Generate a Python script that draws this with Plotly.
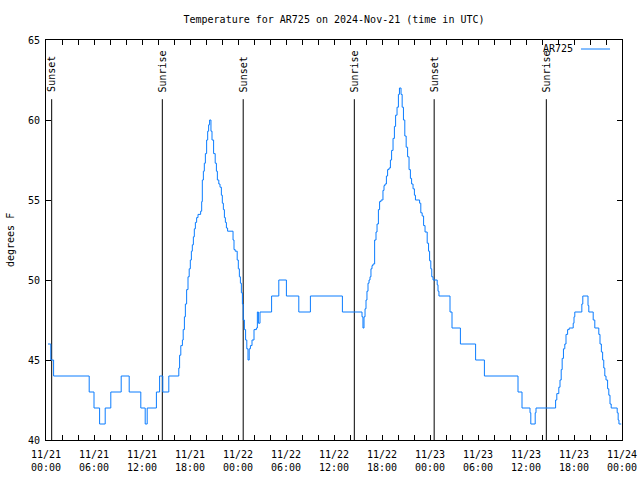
import pandas as pd
import plotly.graph_objects as go

# ---- data -------------------------------------------------------------
start = "2024-11-21 00:00"
end = "2024-11-24 00:00"

# hours since start at which the reading changes, and the reading (deg F)
obs_hours = [
    0.25, 0.6, 0.95, 5.4, 6.0, 6.7, 7.4, 8.1, 9.4, 10.4,
    11.85, 12.4, 12.65, 13.8, 14.2, 14.6, 15.35, 16.6, 16.7, 16.85,
    17.05, 17.15, 17.3, 17.42, 17.58, 17.75, 17.9, 18.04, 18.17, 18.29,
    18.42, 18.54, 18.67, 18.83, 19.0, 19.33, 19.46, 19.54, 19.67, 19.79,
    19.92, 20.08, 20.21, 20.33, 20.45, 20.62, 20.75, 20.95, 21.15, 21.3,
    21.42, 21.6, 21.75, 21.92, 22.04, 22.17, 22.3, 22.42, 22.55, 22.7,
    23.38, 23.5, 23.65, 23.9, 24.04, 24.17, 24.3, 24.42, 24.55, 24.65,
    24.8, 24.95, 25.1, 25.25, 25.4, 25.55, 25.75, 26.0, 26.3, 26.42,
    26.55, 26.75, 28.2, 29.1, 30.05, 31.6, 33.05, 37.05, 39.5, 39.62,
    39.75, 39.88, 40.0, 40.12, 40.25, 40.38, 40.5, 40.62, 40.75, 40.88,
    41.08, 41.25, 41.38, 41.55, 41.7, 41.88, 42.12, 42.25, 42.38, 42.55,
    42.7, 42.88, 43.05, 43.2, 43.38, 43.55, 43.7, 43.88, 44.05, 44.18,
    44.38, 44.52, 44.68, 44.85, 45.02, 45.2, 45.38, 45.55, 45.7, 45.88,
    46.05, 46.18, 46.7, 46.85, 47.02, 47.2, 47.38, 47.65, 47.82, 47.95,
    48.1, 48.22, 48.38, 48.9, 49.0, 49.12, 50.5, 50.75, 51.8, 53.7,
    54.8, 59.0, 59.5, 60.5, 60.6, 61.15, 61.25, 63.7, 63.85, 64.1,
    64.25, 64.4, 64.52, 64.68, 64.85, 65.0, 65.2, 65.4, 65.9, 66.0,
    66.1, 66.98, 67.1, 67.75, 67.85, 68.4, 68.6, 69.1, 69.25, 69.42,
    69.58, 69.72, 69.85, 70.0, 70.2, 70.35, 70.5, 70.65, 71.4, 71.52,
    71.62, 71.9,
]
obs_temps = [
    46, 45, 44, 43, 42, 41, 42, 43, 44, 43,
    42, 41, 42, 43, 44, 43, 44, 44.5, 45.3, 45.9,
    46.25, 46.9, 47.7, 48.5, 49.4, 50.2, 50.7, 51.25, 51.8, 52.2,
    52.7, 53.2, 53.6, 53.9, 54.1, 54.3, 54.9, 56.25, 56.8, 57.3,
    57.9, 58.75, 59.3, 59.7, 60.0, 59.3, 58.75, 57.9, 57.3, 56.8,
    56.25, 56.0, 55.8, 55.3, 54.8, 54.4, 53.9, 53.6, 53.25, 53.05,
    52.5, 51.9, 51.8, 51.25, 50.7, 50.2, 49.8, 49.2, 48.5, 47.5,
    46.9, 46.25, 45.7, 45.0, 45.7, 45.9, 46.25, 46.9, 47.0, 48.0,
    47.3, 48.0, 49, 50, 49, 48, 49, 48, 47.7, 47.0,
    47.7, 48.2, 48.75, 49.3, 49.8, 50.0, 50.2, 50.7, 50.9, 51.0,
    52.5, 53.0, 53.5, 54.4, 54.9, 55.0, 55.6, 55.9, 56.0, 56.5,
    56.9, 57.0, 57.5, 58.1, 58.85, 59.6, 60.3, 60.8, 61.6, 62.0,
    61.6, 60.8, 60.0, 59.0, 58.3, 57.7, 56.9, 56.35, 56.0, 55.7,
    55.3, 55.0, 54.8, 54.2, 54.0, 53.4, 53.0, 52.3, 51.8, 51.2,
    50.7, 50.2, 50.0, 49.7, 49.3, 49.0, 48, 47, 46, 45,
    44, 43, 42, 41.7, 41.0, 41.7, 42, 42.5, 42.9, 43.3,
    43.75, 44.4, 45.1, 45.7, 46.0, 46.6, 46.9, 47.0, 47.3, 47.7,
    48.0, 48.5, 49.0, 48.4, 48.0, 47.5, 47.0, 46.6, 46.0, 45.5,
    45.0, 44.5, 44.0, 43.75, 43.2, 42.8, 42.25, 42.0, 41.7, 41.25,
    41.0, 41.0,
]

# sunrise / sunset events (hours since start)
event_hours = [0.71, 14.54, 24.65, 38.54, 48.52, 62.54]
event_labels = ["Sunset", "Sunrise", "Sunset", "Sunrise", "Sunset", "Sunrise"]
event_top = 61.3

y_ticks = [40, 45, 50, 55, 60, 65]
x_tick_hours = [0, 6, 12, 18, 24, 30, 36, 42, 48, 54, 60, 66, 72]

series_name = "AR725"
title = "Temperature for AR725 on 2024-Nov-21 (time in UTC)"

# ---- build ------------------------------------------------------------
t0 = pd.Timestamp(start)
obs_times = t0 + pd.to_timedelta(obs_hours, unit="h")
event_times = t0 + pd.to_timedelta(event_hours, unit="h")
x_tick_times = t0 + pd.to_timedelta(x_tick_hours, unit="h")
x_tick_text = [t.strftime("%m/%d") + "<br>" + t.strftime("%H:%M") for t in x_tick_times]

FONT = "DejaVu Sans Mono"
BLUE = "#0a7cff"
W, H = 640, 480

fig = go.Figure()

# event lines
ex, ey = [], []
for t in event_times:
    ex += [t, t, None]
    ey += [40, event_top, None]
fig.add_trace(go.Scatter(x=ex, y=ey, mode="lines",
                         line=dict(color="black", width=1),
                         hoverinfo="skip", showlegend=False))

fig.add_trace(go.Scatter(x=obs_times, y=obs_temps, mode="lines",
                         line=dict(color=BLUE, width=1, shape="hv"),
                         name=series_name, showlegend=False))

for t, lab in zip(event_times, event_labels):
    fig.add_annotation(x=t, y=event_top, xref="x", yref="y", text=lab,
                       textangle=-90, showarrow=False, xanchor="center",
                       yanchor="bottom", yshift=5,
                       font=dict(family=FONT, size=10, color="black"))

# legend (gnuplot style: text then line sample)
fig.add_annotation(x=0.918, y=0.9775, xref="paper", yref="paper",
                   text=series_name, showarrow=False, xanchor="right",
                   yanchor="middle", font=dict(family=FONT, size=10, color="black"))
fig.add_shape(type="line", xref="paper", yref="paper", x0=0.9288, x1=0.9792,
              y0=0.9775, y1=0.9775, line=dict(color=BLUE, width=1))

# y label
fig.add_annotation(x=0, y=0.5, xref="paper", yref="paper", text="degrees F",
                   textangle=-90, showarrow=False, xanchor="center",
                   yanchor="middle", xshift=-36,
                   font=dict(family=FONT, size=10, color="black"))

fig.update_layout(
    width=W, height=H,
    margin=dict(l=46, r=18, t=40, b=40, autoexpand=False),
    paper_bgcolor="white", plot_bgcolor="white",
    title=dict(text=title, x=(46 + 622) / 2 / W, xanchor="center",
               xref="container", yref="container",
               y=1 - 19 / H, yanchor="middle", automargin=False,
               font=dict(family=FONT, size=10, color="black")),
    font=dict(family=FONT, size=10, color="black"),
    showlegend=False,
)
fig.update_xaxes(range=[t0, pd.Timestamp(end)], tickvals=list(x_tick_times),
                 ticktext=x_tick_text, ticks="inside", ticklen=5,
                 tickcolor="black", showline=True, linecolor="black",
                 linewidth=1, mirror="ticks", showgrid=False, zeroline=False,
                 automargin=False, ticklabelstandoff=5,
                 minor=dict(dtick=2 * 3600 * 1000, tick0=t0, ticks="inside",
                            ticklen=5, tickcolor="black", showgrid=False),
                 tickfont=dict(family=FONT, size=10, color="black"))
fig.update_yaxes(range=[40, 65], tickvals=y_ticks, ticks="inside", ticklen=5,
                 tickcolor="black", showline=True, linecolor="black",
                 linewidth=1, mirror="ticks", showgrid=False, zeroline=False,
                 automargin=False, ticklabelstandoff=3,
                 tickfont=dict(family=FONT, size=10, color="black"))

# remove the browser's default 8px body margin so the 640x480 figure fills the window
fig.write_html("out.html",
               config={"displayModeBar": False},
               post_script="document.body.style.margin='0';"
                           "document.body.style.overflow='hidden';")
